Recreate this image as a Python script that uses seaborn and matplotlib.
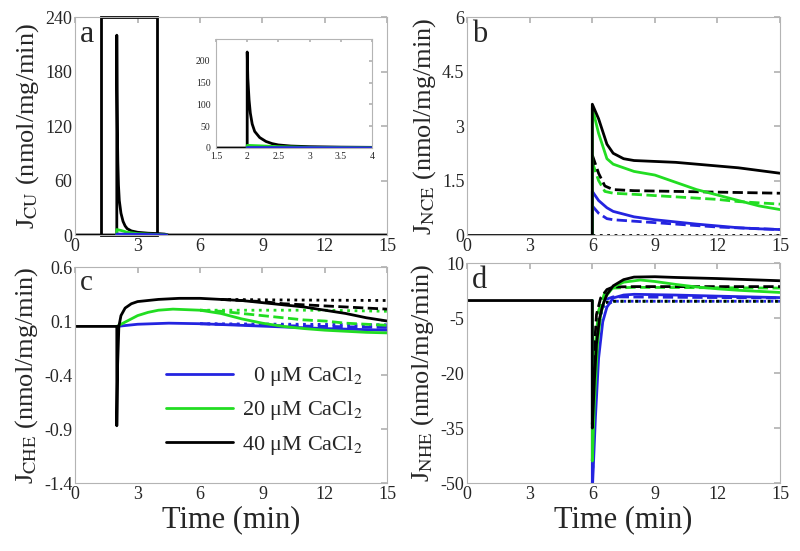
import matplotlib
matplotlib.use("Agg")
import matplotlib.pyplot as plt
from matplotlib.lines import Line2D
from matplotlib.patches import Rectangle
import seaborn as sns

sns.set_theme(style="white")
plt.rcParams["font.family"] = ["Liberation Serif", "DejaVu Serif"]
plt.rcParams["mathtext.fontset"] = "stix"

BLUE = "#2424e0"
GREEN = "#22dd22"
BLACK = "#000000"

# ---- panel a: J_CU (solid only) ----
a_t_black = [0, 2.0, 2.0, 2.01, 2.03, 2.05, 2.08, 2.12, 2.2, 2.3, 2.4, 2.5, 2.7, 3.0, 3.5, 4.0, 4.3, 4.5, 15]
a_black = [0, 0, 220, 160, 110, 80, 55, 38, 24, 15, 10, 7, 4.5, 3, 2, 1.5, 1, 0, 0]
a_t_green = [2.0, 2.0, 2.2, 2.5, 3.0, 4.0, 4.4]
a_green = [0, 6, 5, 3, 1.5, 0.5, 0]
a_t_blue = [2.0, 2.0, 3.0, 4.0, 4.4]
a_blue = [0, 1, 0.8, 0.3, 0]

# ---- panel b: J_NCE ----
b_t_base = [0, 6]
b_base = [0, 0]
b_t_black_solid = [6, 6, 6.3, 6.7, 7, 7.5, 8, 10, 12, 13, 15]
b_black_solid = [0, 3.6, 3.2, 2.5, 2.25, 2.1, 2.05, 2.0, 1.9, 1.85, 1.7]
b_t_green_solid = [6, 6, 6.3, 6.7, 7, 8, 9, 10, 11, 12, 13, 14, 15]
b_green_solid = [0, 3.5, 2.8, 2.1, 1.95, 1.75, 1.65, 1.45, 1.25, 1.1, 0.95, 0.8, 0.7]
b_t_blue_solid = [6, 6, 6.3, 6.7, 7, 8, 9, 10, 11, 12, 13, 14, 15]
b_blue_solid = [0, 1.2, 0.95, 0.75, 0.65, 0.5, 0.42, 0.36, 0.3, 0.25, 0.2, 0.17, 0.15]
b_t_black_dash = [6, 6.3, 6.6, 7, 8, 10, 12, 15]
b_black_dash = [2.2, 1.7, 1.35, 1.25, 1.22, 1.2, 1.18, 1.15]
b_t_green_dash = [6, 6.3, 6.6, 7, 8, 10, 12, 13, 15]
b_green_dash = [2.0, 1.5, 1.2, 1.15, 1.12, 1.05, 0.98, 0.92, 0.85]
b_t_blue_dash = [6, 6.3, 6.7, 7, 8, 10, 12, 15]
b_blue_dash = [0.8, 0.6, 0.45, 0.42, 0.38, 0.3, 0.22, 0.15]
b_t_dot = [6, 15]
b_dot = [0, 0]

# ---- panel c: J_CHE ----
c_t_black_solid = [0, 2.0, 2.0, 2.04, 2.1, 2.2, 2.4, 2.7, 3, 4, 5, 6, 7, 8, 9, 10, 11, 12, 13, 14, 15]
c_black_solid = [0.05, 0.05, -0.87, -0.3, 0.05, 0.15, 0.22, 0.26, 0.28, 0.3, 0.31, 0.31, 0.3, 0.29, 0.27, 0.25, 0.23, 0.2, 0.17, 0.13, 0.1]
c_t_black_dash = [7, 8, 9, 10, 11, 12, 13, 14, 15]
c_black_dash = [0.3, 0.29, 0.28, 0.26, 0.25, 0.24, 0.23, 0.22, 0.21]
c_t_black_dot = [7, 10, 15]
c_black_dot = [0.3, 0.295, 0.29]
c_t_green_solid = [2.0, 2.5, 3, 3.5, 4, 4.7, 6, 7, 8, 9, 10, 11, 12, 13, 14, 15]
c_green_solid = [0.05, 0.1, 0.15, 0.18, 0.2, 0.21, 0.2, 0.17, 0.12, 0.08, 0.05, 0.03, 0.015, 0.005, -0.005, -0.01]
c_t_green_dash = [6, 7, 8, 9, 10, 11, 12, 13, 14, 15]
c_green_dash = [0.2, 0.19, 0.17, 0.15, 0.13, 0.11, 0.1, 0.08, 0.07, 0.06]
c_t_green_dot = [6, 9, 12, 15]
c_green_dot = [0.2, 0.2, 0.2, 0.19]
c_t_blue_solid = [2.0, 3, 4.5, 6, 8, 10, 12, 15]
c_blue_solid = [0.05, 0.07, 0.08, 0.075, 0.06, 0.045, 0.03, 0.015]
c_t_blue_dash = [6, 9, 12, 15]
c_blue_dash = [0.075, 0.06, 0.05, 0.04]
c_t_blue_dot = [6, 15]
c_blue_dot = [0.075, 0.065]

# ---- panel d: J_NHE ----
d_t_black_solid = [0, 6, 6, 6.1, 6.2, 6.35, 6.5, 6.7, 7, 7.5, 8, 9, 10, 12, 14, 15]
d_black_solid = [-0.2, -0.2, -35, -22, -12, -5, -1.5, 1.5, 3.8, 5.5, 6.2, 6.3, 6.1, 5.8, 5.4, 5.2]
d_t_black_dash = [6, 6.08, 6.2, 6.4, 6.7, 7, 8, 15]
d_black_dash = [-34, -15, -4, 0.5, 2.8, 3.5, 3.6, 3.6]
d_t_black_dot = [6, 6.1, 6.3, 6.6, 7, 15]
d_black_dot = [-34, -12, -3, -0.8, -0.4, -0.4]
d_t_green_solid = [6, 6, 6.1, 6.25, 6.4, 6.6, 7, 7.5, 8.3, 9, 10, 11, 12, 13, 14, 15]
d_green_solid = [-0.2, -44, -28, -12, -4, 0.5, 3.5, 4.8, 5.4, 5.0, 4.2, 3.5, 3.0, 2.6, 2.3, 2.0]
d_t_green_dash = [6, 6.1, 6.3, 6.6, 7, 8, 15]
d_green_dash = [-44, -15, -3, 2, 3.2, 3.4, 3.2]
d_t_green_dot = [6, 6.1, 6.3, 6.6, 7, 15]
d_green_dot = [-44, -14, -3, -0.8, -0.4, -0.4]
d_t_blue_solid = [6, 6, 6.15, 6.3, 6.5, 6.7, 7, 7.5, 8, 10, 12, 15]
d_blue_solid = [-0.2, -52, -32, -16, -6, -2, 0.5, 1.3, 1.5, 1.3, 1.0, 0.6]
d_t_blue_dash = [6, 6.1, 6.3, 6.6, 7, 15]
d_blue_dash = [-52, -20, -5, 0, 0.8, 0.5]
d_t_blue_dot = [6, 6.2, 6.5, 7, 15]
d_blue_dot = [-50, -10, -2, -0.4, -0.4]

legend_labels = ["  0 \u03bcM CaCl$_2$", "20 \u03bcM CaCl$_2$", "40 \u03bcM CaCl$_2$"]
time_ticks = [0, 3, 6, 9, 12, 15]


def curve(ax, t, v, color, ls="-"):
    sns.lineplot(x=t, y=v, ax=ax, color=color, linestyle=ls, lw=2,
                 estimator=None, sort=False, legend=False)


def style_axes(ax, yticks, ylabel, letter, xlabel=None, letter_size=22):
    ax.set_xlim(0, 15)
    ax.set_ylim(yticks[0], yticks[-1])
    ax.set_xticks(time_ticks)
    ax.set_yticks(yticks)
    ax.set_yticklabels([f"{y:g}" for y in yticks])
    for s in ax.spines.values():
        s.set_color("#b4b4b4")
        s.set_linewidth(0.8)
    ax.tick_params(direction="in", length=4, color="#b4b4b4", labelsize=13,
                   top=True, right=True, pad=2)
    ax.set_ylabel(ylabel, fontsize=19, labelpad=3)
    ax.set_xlabel(xlabel if xlabel else "", fontsize=22, labelpad=2)
    ax.text(0.016, 0.985, letter, transform=ax.transAxes, fontsize=letter_size,
            va="top", ha="left")


fig = plt.figure(figsize=(8, 5.51), dpi=100)
ax_a = fig.add_axes([0.094, 0.5735, 0.39, 0.3956])
ax_b = fig.add_axes([0.584, 0.5735, 0.391, 0.3956])
ax_c = fig.add_axes([0.094, 0.1234, 0.39, 0.392])
ax_d = fig.add_axes([0.584, 0.1234, 0.391, 0.399])

# panel a
curve(ax_a, a_t_black, a_black, BLACK)
curve(ax_a, a_t_green, a_green, GREEN)
curve(ax_a, a_t_blue, a_blue, BLUE)
ax_a.add_patch(Rectangle((1.25, 0), 2.7, 240, fill=False, edgecolor="black",
                         lw=2, clip_on=False))
style_axes(ax_a, [0, 60, 120, 180, 240], "J$_{\\mathrm{CU}}$ (nmol/mg/min)", "a",
           letter_size=23)

ax_in = fig.add_axes([0.27, 0.7314, 0.195, 0.198])
curve(ax_in, a_t_black, a_black, BLACK)
curve(ax_in, a_t_green, a_green, GREEN)
curve(ax_in, a_t_blue, a_blue, BLUE)
ax_in.set_xlim(1.5, 4)
ax_in.set_ylim(0, 250)
ax_in.set_xticks([1.5, 2, 2.5, 3, 3.5, 4])
ax_in.set_xticklabels(["1.5", "2", "2.5", "3", "3.5", "4"])
ax_in.set_yticks([0, 50, 100, 150, 200])
for s in ax_in.spines.values():
    s.set_color("#b4b4b4")
    s.set_linewidth(0.8)
ax_in.tick_params(direction="in", length=2, color="#b4b4b4", labelsize=7,
                  top=True, right=True)
ax_in.tick_params(axis="x", pad=3)
ax_in.tick_params(axis="y", pad=4)
ax_in.set_xlabel("")
ax_in.set_ylabel("")

# panel b
for t, v, c in [(b_t_dot, b_dot, BLACK)]:
    curve(ax_b, t, v, c, ":")
for t, v, c in [(b_t_blue_dash, b_blue_dash, BLUE), (b_t_green_dash, b_green_dash, GREEN),
                (b_t_black_dash, b_black_dash, BLACK)]:
    curve(ax_b, t, v, c, "--")
for t, v, c in [(b_t_blue_solid, b_blue_solid, BLUE), (b_t_green_solid, b_green_solid, GREEN),
                (b_t_base, b_base, BLACK), (b_t_black_solid, b_black_solid, BLACK)]:
    curve(ax_b, t, v, c)
style_axes(ax_b, [0, 1.5, 3, 4.5, 6], "J$_{\\mathrm{NCE}}$ (nmol/mg/min)", "b")

# panel c
for t, v, c in [(c_t_blue_dot, c_blue_dot, BLUE), (c_t_green_dot, c_green_dot, GREEN),
                (c_t_black_dot, c_black_dot, BLACK)]:
    curve(ax_c, t, v, c, ":")
for t, v, c in [(c_t_blue_dash, c_blue_dash, BLUE), (c_t_green_dash, c_green_dash, GREEN),
                (c_t_black_dash, c_black_dash, BLACK)]:
    curve(ax_c, t, v, c, "--")
for t, v, c in [(c_t_blue_solid, c_blue_solid, BLUE), (c_t_green_solid, c_green_solid, GREEN),
                (c_t_black_solid, c_black_solid, BLACK)]:
    curve(ax_c, t, v, c)
style_axes(ax_c, [-1.4, -0.9, -0.4, 0.1, 0.6], "J$_{\\mathrm{CHE}}$ (nmol/mg/min)", "c",
           "Time (min)", letter_size=21)
handles = [Line2D([], [], color=c, lw=2) for c in [BLUE, GREEN, BLACK]]
ax_c.legend(handles, legend_labels, loc="lower right", bbox_to_anchor=(0.985, 0.03),
            frameon=False, fontsize=16, handlelength=3.0, handletextpad=0.4,
            labelspacing=0.5)

# panel d
for t, v, c in [(d_t_blue_dot, d_blue_dot, BLUE), (d_t_green_dot, d_green_dot, GREEN),
                (d_t_black_dot, d_black_dot, BLACK)]:
    curve(ax_d, t, v, c, ":")
for t, v, c in [(d_t_blue_dash, d_blue_dash, BLUE), (d_t_green_dash, d_green_dash, GREEN),
                (d_t_black_dash, d_black_dash, BLACK)]:
    curve(ax_d, t, v, c, "--")
for t, v, c in [(d_t_blue_solid, d_blue_solid, BLUE), (d_t_green_solid, d_green_solid, GREEN),
                (d_t_black_solid, d_black_solid, BLACK)]:
    curve(ax_d, t, v, c)
style_axes(ax_d, [-50, -35, -20, -5, 10], "J$_{\\mathrm{NHE}}$ (nmol/mg/min)", "d",
           "Time (min)")

fig.savefig("out.png", dpi=100)
